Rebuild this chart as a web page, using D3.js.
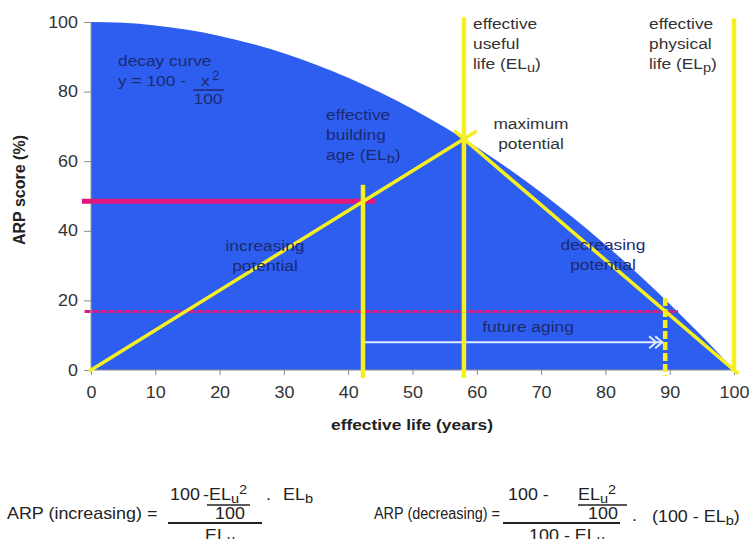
<!DOCTYPE html>
<html><head><meta charset="utf-8">
<script src="https://cdn.jsdelivr.net/npm/d3@7/dist/d3.min.js"></script>
<style>
body{margin:0;background:#fff;}
svg{display:block;font-family:"Liberation Sans",Arial,sans-serif;}
</style></head>
<body><svg id="c" width="749" height="539"></svg>
<script>
// ---- data ----
const xTicks = [0,10,20,30,40,50,60,70,80,90,100];
const yTicks = [0,20,40,60,80,100];
// decay curve y = 100 - x^2/100, sampled values
const decayX = [0,5,10,15,20,25,30,35,40,45,50,55,60,65,70,75,80,85,90,95,100];
const decayY = [100,99.75,99,97.75,96,93.75,91,87.75,84,79.75,75,69.75,64,57.75,51,43.75,36,27.75,19,9.75,0];
const ELu = 58, ELb = 42.3, ELp = 100, futureAge = 89.3;
const peakARP = 66.4;          // decay value at ELu
const arpIncreasing = 48.5;    // ARP at ELb
const arpDecreasing = 16.8;    // ARP at future age
const arrowY = 8;

const svg = d3.select("#c");
const x = d3.scaleLinear().domain([0,100]).range([91,734]);
const y = d3.scaleLinear().domain([0,100]).range([370,22]);

const BLUE = "#2d5ef0", YEL = "#f6f020", PINK = "#e0187c", NAVY = "#1c2a70", TXT = "#333";
const SX = 1.12; // horizontal text stretch

// blue area
const area = d3.area().x((d,i)=>x(decayX[i])).y0(y(0)).y1(d=>y(d)).curve(d3.curveMonotoneX);
svg.append("path").datum(decayY).attr("d",area).attr("fill",BLUE);

// axes
const xAxis = d3.axisBottom(x).tickValues(xTicks).tickSize(5).tickPadding(12);
const gx = svg.append("g").attr("transform",`translate(0,${y(0)})`).call(xAxis);
gx.select(".domain").attr("stroke","#8a8a8a").attr("d",`M${x(0)},0H${x(100)}`);
gx.selectAll(".tick line").attr("stroke","#8a8a8a");
gx.selectAll("text").attr("font-size",16).attr("fill",TXT).attr("font-family","Liberation Sans, Arial");

const yAxis = d3.axisLeft(y).tickValues(yTicks).tickSize(7).tickPadding(6);
const gy = svg.append("g").attr("transform",`translate(${x(0)},0)`).call(yAxis);
gy.select(".domain").attr("stroke","#8aa08a").attr("d",`M0,${y(100)}V${y(0)}`);
gy.selectAll(".tick line").attr("stroke","#8a8a8a");
gy.selectAll("text").attr("font-size",16).attr("fill",TXT).attr("font-family","Liberation Sans, Arial");

// axis titles
svg.append("text").attr("x",412).attr("y",430).attr("text-anchor","middle")
  .attr("font-weight","bold").attr("font-size",15.5).attr("fill","#222").text("effective life (years)");
svg.append("text").attr("class","rot").attr("transform","translate(25,190) rotate(-90)").attr("text-anchor","middle")
  .attr("font-weight","bold").attr("font-size",16).attr("fill","#222").text("ARP score (%)");

// pink lines
svg.append("line").attr("x1",x(-1.4)).attr("x2",x(44.2)).attr("y1",y(arpIncreasing)).attr("y2",y(arpIncreasing))
  .attr("stroke",PINK).attr("stroke-width",5);
svg.append("line").attr("x1",x(-1)).attr("x2",x(91.3)).attr("y1",y(arpDecreasing)).attr("y2",y(arpDecreasing))
  .attr("stroke",PINK).attr("stroke-width",3).attr("stroke-dasharray","6,2");

// white arrow (future aging)
svg.append("line").attr("x1",x(ELb)).attr("x2",x(futureAge)-2).attr("y1",y(arrowY)).attr("y2",y(arrowY))
  .attr("stroke","#dfe9ff").attr("stroke-width",2);
[0,6].forEach(o=>{
  const ax = x(futureAge)-3-o, ay = y(arrowY);
  svg.append("path").attr("d",`M${ax-7},${ay-6}L${ax},${ay}L${ax-7},${ay+6}`)
    .attr("fill","none").attr("stroke","#dfe9ff").attr("stroke-width",2);
});

// yellow diagonals
const incSlope = peakARP/ELu, decSlope = peakARP/(ELp-ELu);
svg.append("line").attr("x1",x(-0.3)).attr("y1",y(-0.3*incSlope)).attr("x2",x(ELu+2)).attr("y2",y(peakARP+2*incSlope))
  .attr("stroke",YEL).attr("stroke-width",3.5);
svg.append("line").attr("x1",x(ELu-1.5)).attr("y1",y(peakARP+1.5*decSlope)).attr("x2",x(ELp+0.7)).attr("y2",y(-0.7*decSlope))
  .attr("stroke",YEL).attr("stroke-width",3.5);

// yellow verticals
svg.append("line").attr("x1",x(ELu)).attr("x2",x(ELu)).attr("y1",y(101.4)).attr("y2",y(-2.3)).attr("stroke",YEL).attr("stroke-width",4.5);
svg.append("line").attr("x1",x(ELb)).attr("x2",x(ELb)).attr("y1",y(53.2)).attr("y2",y(-2.3)).attr("stroke",YEL).attr("stroke-width",4.5);
svg.append("line").attr("x1",x(ELp)).attr("x2",x(ELp)).attr("y1",y(101)).attr("y2",y(-0.5)).attr("stroke",YEL).attr("stroke-width",4.5);
svg.append("line").attr("x1",x(futureAge)).attr("x2",x(futureAge)).attr("y1",y(20.7)).attr("y2",y(-1.8))
  .attr("stroke",YEL).attr("stroke-width",4.5).attr("stroke-dasharray","8,3");

// ---- labels ----
const LS = 15.5;
function label(lines, xx, yy, color, anchor){
  const t = svg.append("text").attr("x",xx).attr("y",yy).attr("fill",color).attr("font-size",LS)
    .attr("text-anchor",anchor||"start");
  lines.forEach((ln,i)=>{
    const ts = t.append("tspan").attr("x",xx).attr("dy", i===0?0:20);
    ln.forEach(part=>{
      if(typeof part === "string") ts.append("tspan").text(part);
      else ts.append("tspan").attr("font-size",part.size||12).attr("dy",part.dy).text(part.t);
    });
  });
  return t;
}
label([["decay curve"]],118,66,NAVY);
label([["y = 100 - "]],118,86,NAVY);
label([["x"]],201,86,NAVY);
svg.append("text").attr("x",212).attr("y",80).attr("fill",NAVY).attr("font-size",12).text("2");
svg.append("line").attr("x1",193).attr("x2",224).attr("y1",90).attr("y2",90).attr("stroke",NAVY).attr("stroke-width",1.5);
label([["100"]],208,104,NAVY,"middle");

label([["effective"],["useful"],["life (EL",{t:"u",dy:3,size:13},{t:")",dy:-3,size:LS}]],473,29,TXT);
label([["effective"],["physical"],["life (EL",{t:"p",dy:3,size:13},{t:")",dy:-3,size:LS}]],649,29,TXT);
label([["effective"],["building"],["age (EL",{t:"b",dy:3,size:13},{t:")",dy:-3,size:LS}]],326,120,NAVY);
label([["maximum"]],531,129,TXT,"middle");
label([["potential"]],531,149,TXT,"middle");
label([["increasing"],["potential"]],265,251,NAVY,"middle");
label([["decreasing"],["potential"]],603,250,NAVY,"middle");
label([["future aging"]],528,332,NAVY,"middle");

// ---- formulas ----
const F = "#222", FS = 16;
function ftext(xx,yy,parts,anchor){
  const t = svg.append("text").attr("x",xx).attr("y",yy).attr("fill",F).attr("font-size",FS).attr("text-anchor",anchor||"start");
  parts.forEach(p=>{
    if(typeof p === "string") t.append("tspan").text(p);
    else t.append("tspan").attr("font-size",p.size||13).attr("dy",p.dy).text(p.t);
  });
  return t;
}
function hline(x1,x2,yy,w){svg.append("line").attr("x1",x1).attr("x2",x2).attr("y1",yy).attr("y2",yy).attr("stroke",F).attr("stroke-width",w||1.6);}

// left formula
ftext(7,519,["ARP (increasing) ="]);
ftext(170,500,["100"]);
ftext(203,500,["-"]);
ftext(209,500,["EL",{t:"u",dy:3},{t:"2",dy:-9}]);
hline(207,250,505);
ftext(230,519,["100"],"middle");
ftext(266,500,["."]);
ftext(283,500,["EL",{t:"b",dy:3}]);
hline(168,262,523,2);
ftext(220,541,["EL",{t:"u",dy:3}],"middle");

// right formula
ftext(374,519,["ARP (decreasing) ="]).classed("fit",true).attr("textLength",126).attr("lengthAdjust","spacingAndGlyphs");
ftext(508,500,["100 -"]);
ftext(578,500,["EL",{t:"u",dy:3},{t:"2",dy:-9}]);
hline(578,627,505);
ftext(603,519,["100"],"middle");
hline(503,620,523,2);
ftext(567,541,["100 - EL",{t:"u",dy:3}],"middle");
ftext(632,521,["."]);
ftext(652,522,["(100 - EL",{t:"b",dy:3},{t:")",dy:-3,size:FS}]);

// horizontal stretch of text glyphs around their anchor x
svg.selectAll("text").each(function(){
  const el = d3.select(this);
  if (el.classed("rot") || el.classed("fit")) return;
  const ax = +(el.attr("x")||0);
  const prev = el.attr("transform")||"";
  el.attr("transform", `${prev} translate(${ax},0) scale(${SX},1) translate(${-ax},0)`);
});
</script></body></html>
